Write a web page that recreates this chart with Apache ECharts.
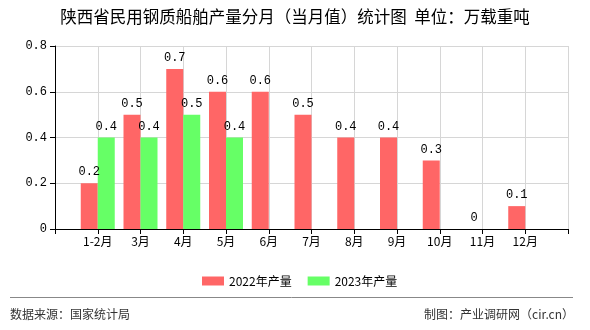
<!DOCTYPE html>
<html>
<head>
<meta charset="utf-8">
<script src="https://cdn.jsdelivr.net/npm/echarts@6/dist/echarts.min.js"></script>
<style>
html,body{margin:0;padding:0;background:#fff;}
#c{width:590px;height:330px;}
</style>
</head>
<body>
<div id="c"></div>
<script>
var categories = ['1-2月','3月','4月','5月','6月','7月','8月','9月','10月','11月','12月'];
var values2022 = [0.2,0.5,0.7,0.6,0.6,0.5,0.4,0.4,0.3,0,0.1];
var values2023 = [0.4,0.4,0.5,0.4];
var yTicks = [0,0.2,0.4,0.6,0.8];
var seriesNames = ['2022年产量','2023年产量'];

var cats = [''].concat(categories).concat(['']);
function pad(arr){
  var out = ['-'];
  for (var i=0;i<categories.length;i++){ out.push(i<arr.length?arr[i]:'-'); }
  out.push('-');
  return out;
}
var mono = '"Liberation Mono","DejaVu Sans Mono",monospace';
var cjk = '"Noto Sans CJK SC","Noto Sans",sans-serif';

var chart = echarts.init(document.getElementById('c'));
chart.setOption({
  animation:false,
  backgroundColor:'#fff',
  title:{
    text:'陕西省民用钢质船舶产量分月（当月值）统计图  单位：万载重吨',
    left:'center', top:3,
    textStyle:{fontSize:16.5,fontWeight:'normal',color:'#000',fontFamily:cjk}
  },
  legend:{
    data:seriesNames,
    left:197, top:270,
    itemWidth:22, itemHeight:9, itemGap:16,
    textStyle:{fontSize:12,color:'#000',fontFamily:cjk},
    icon:'rect'
  },
  grid:{left:55,right:22,top:46,bottom:101,containLabel:false},
  xAxis:{
    type:'category',
    data:cats,
    boundaryGap:false,
    axisLine:{lineStyle:{color:'#000',width:1}},
    axisTick:{show:true,length:5,lineStyle:{color:'#000'}},
    axisLabel:{interval:0,fontSize:12,color:'#000',margin:6,fontFamily:cjk},
    splitLine:{show:true,lineStyle:{color:'#d6d6d6',width:1}}
  },
  yAxis:{
    type:'value',
    min:yTicks[0], max:yTicks[yTicks.length-1], interval:0.2,
    axisLine:{show:true,lineStyle:{color:'#000',width:1}},
    axisTick:{show:true,length:5,lineStyle:{color:'#000'}},
    axisLabel:{fontSize:12,color:'#000',margin:8,fontFamily:mono,
      formatter:function(v){return String(Math.round(v*10)/10);}},
    splitLine:{show:true,lineStyle:{color:'#d6d6d6',width:1}}
  },
  series:[
    {name:seriesNames[0],type:'bar',data:pad(values2022),barWidth:17,barGap:'0%',
     itemStyle:{color:'#FF6666'},
     label:{show:true,position:'top',distance:5,color:'#000',fontSize:12,fontFamily:mono}},
    {name:seriesNames[1],type:'bar',data:pad(values2023),barWidth:17,barGap:'0%',
     itemStyle:{color:'#66FF66'},
     label:{show:true,position:'top',distance:5,color:'#000',fontSize:12,fontFamily:mono}}
  ],
  graphic:[
    {type:'line',shape:{x1:10,y1:297.5,x2:573,y2:297.5},style:{stroke:'#888',lineWidth:1}},
    {type:'text',left:10,top:308,style:{text:'数据来源：国家统计局',fontSize:12,fill:'#333',fontFamily:cjk}},
    {type:'text',right:16,top:308,style:{text:'制图：产业调研网（cir.cn）',fontSize:12,fill:'#333',fontFamily:cjk}}
  ]
});
</script>
</body>
</html>
